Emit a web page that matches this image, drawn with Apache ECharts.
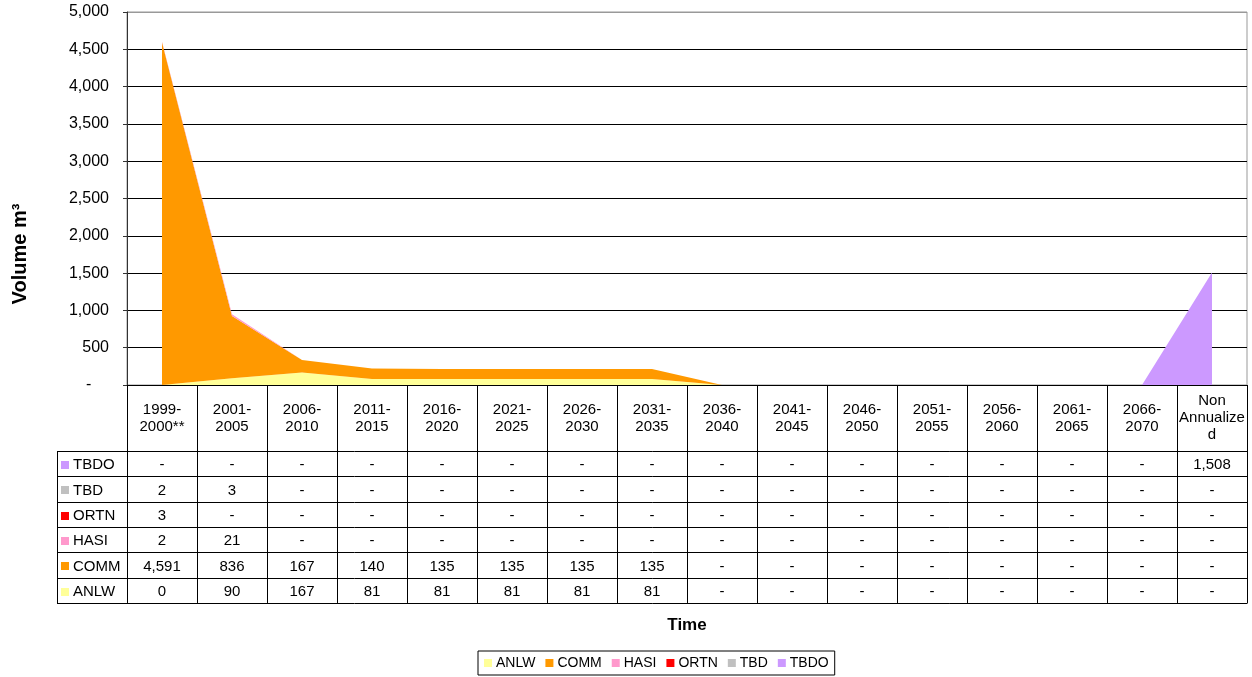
<!DOCTYPE html>
<html>
<head>
<meta charset="utf-8">
<title>Volume by period</title>
<script src="https://cdn.jsdelivr.net/npm/echarts@6/dist/echarts.min.js"></script>
<style>
  html, body { margin: 0; padding: 0; background: #fff; }
  #chart { width: 1252px; height: 677px; }
</style>
</head>
<body>
<div id="chart"></div>
<script>
// Time periods (x categories / table header)
const categories = [
  '1999-\n2000**', '2001-\n2005', '2006-\n2010', '2011-\n2015', '2016-\n2020',
  '2021-\n2025', '2026-\n2030', '2031-\n2035', '2036-\n2040', '2041-\n2045',
  '2046-\n2050', '2051-\n2055', '2056-\n2060', '2061-\n2065', '2066-\n2070',
  'Non\nAnnualize\nd'
];

// Volumes in m3 per waste stream (0 is shown as "-")
const anlw = [0.4, 90, 167, 81, 81, 81, 81, 81, 0, 0, 0, 0, 0, 0, 0, 0];
const comm = [4591, 836, 167, 140, 135, 135, 135, 135, 0, 0, 0, 0, 0, 0, 0, 0];
const hasi = [2, 21, 0, 0, 0, 0, 0, 0, 0, 0, 0, 0, 0, 0, 0, 0];
const ortn = [3, 0, 0, 0, 0, 0, 0, 0, 0, 0, 0, 0, 0, 0, 0, 0];
const tbd  = [2, 3, 0, 0, 0, 0, 0, 0, 0, 0, 0, 0, 0, 0, 0, 0];
const tbdo = [0, 0, 0, 0, 0, 0, 0, 0, 0, 0, 0, 0, 0, 0, 0, 1508];

const seriesNames = ['ANLW', 'COMM', 'HASI', 'ORTN', 'TBD', 'TBDO'];
const seriesData = [anlw, comm, hasi, ortn, tbd, tbdo];
const seriesColors = ['#FFFF99', '#FF9900', '#FF99CC', '#FF0000', '#C0C0C0', '#CC99FF'];

// Y axis scale
const yMin = 0, yMax = 5000, yStep = 500;

const FONT = '"Liberation Sans", Arial, sans-serif';
const HEADER_H = 66;     // height of the period header row under the axis
const ROW_H = 25.33;     // height of each data-table row
const TABLE_H = HEADER_H + ROW_H * seriesNames.length;

const fmt = v => v === 0 ? '-' : Math.round(v).toLocaleString('en-US');

// gridlines are black; the top one doubles as the grey plot border
const nLines = (yMax - yMin) / yStep + 1;
const splitColors = Array.from({ length: nLines }, (_, i) => i === nLines - 1 ? '#999' : '#000');

const chart = echarts.init(document.getElementById('chart'), null, { renderer: 'canvas' });

chart.setOption({
  animation: false,
  backgroundColor: '#fff',
  textStyle: { fontFamily: FONT },
  grid: {
    left: 127, right: 5, top: 12, bottom: 292,
    show: true, borderColor: '#999', borderWidth: 1, backgroundColor: 'transparent'
  },
  legend: {
    data: seriesNames,
    left: 478, top: 651,
    orient: 'horizontal',
    icon: 'rect',
    itemWidth: 8, itemHeight: 8, itemGap: 10,
    padding: [5, 6, 5, 6],
    borderColor: '#000', borderWidth: 1,
    textStyle: { fontSize: 14, color: '#000', fontFamily: FONT, padding: [0, 0, 0, -1] },
    selectedMode: false
  },
  xAxis: {
    type: 'category',
    data: categories,
    boundaryGap: true,
    name: 'Time',
    nameLocation: 'middle',
    nameGap: 232,
    nameTextStyle: { fontSize: 17, fontWeight: 'bold', color: '#000', fontFamily: FONT },
    axisLine: { show: true, lineStyle: { color: '#000', width: 1 } },
    axisTick: { show: true, interval: 0, alignWithLabel: false, length: TABLE_H, lineStyle: { color: '#000' } },
    axisLabel: {
      interval: 0, margin: HEADER_H / 2, verticalAlign: 'middle', align: 'center',
      fontSize: 15, lineHeight: 17, color: '#000', fontFamily: FONT
    },
    splitLine: { show: false }
  },
  yAxis: {
    type: 'value',
    min: yMin, max: yMax, interval: yStep,
    axisLine: { show: true, lineStyle: { color: '#333', width: 1 } },
    axisTick: { show: true, inside: false, length: 4, lineStyle: { color: '#333' } },
    axisLabel: {
      margin: 18, fontSize: 16, color: '#000', fontFamily: FONT,
      formatter: v => v === 0 ? '-    ' : v.toLocaleString('en-US')
    },
    splitLine: { show: true, lineStyle: { color: splitColors, width: 1 } }
  },
  series: seriesNames.map((name, i) => ({
    name: name,
    type: 'line',
    stack: 'total',
    data: seriesData[i],
    symbol: 'none',
    showSymbol: false,
    lineStyle: { width: 0, color: seriesColors[i] },
    itemStyle: { color: seriesColors[i] },
    areaStyle: { color: seriesColors[i], opacity: 1 },
    emphasis: { disabled: true },
    z: 2
  }))
});

// Data table beneath the axis: rows listed top-down from the last series to the first
function drawTable() {
  const xs = categories.map((c, i) => chart.convertToPixel({ xAxisIndex: 0 }, i));
  const y0 = chart.convertToPixel({ yAxisIndex: 0 }, 0);
  const gridRight = chart.getWidth() - 5;
  const tableLeft = 57;
  const rowsTop = y0 + HEADER_H;
  const elements = [];
  const crisp = v => Math.round(v) + 0.5;

  // vertical axis title
  elements.push({
    type: 'text', silent: true,
    x: 20, y: 254, rotation: Math.PI / 2,
    style: {
      text: 'Volume m³', textAlign: 'center', textVerticalAlign: 'middle',
      font: 'bold 20px ' + FONT, fill: '#000'
    }
  });

  // horizontal row rules
  for (let r = 0; r <= seriesNames.length; r++) {
    const y = crisp(rowsTop + r * ROW_H);
    elements.push({
      type: 'line', silent: true,
      shape: { x1: tableLeft, y1: y, x2: gridRight + 0.5, y2: y },
      style: { stroke: '#000', lineWidth: 1 }
    });
  }
  // left edge of the series-name column
  elements.push({
    type: 'line', silent: true,
    shape: { x1: tableLeft + 0.5, y1: crisp(rowsTop), x2: tableLeft + 0.5, y2: crisp(rowsTop + seriesNames.length * ROW_H) },
    style: { stroke: '#000', lineWidth: 1 }
  });

  const order = seriesNames.map((n, i) => i).reverse();
  order.forEach((si, r) => {
    const cy = rowsTop + r * ROW_H + ROW_H / 2 + 1.5;
    // key swatch + series name
    elements.push({
      type: 'rect', silent: true,
      shape: { x: 61, y: Math.round(cy - 4), width: 8, height: 8 },
      style: { fill: seriesColors[si] }
    });
    elements.push({
      type: 'text', silent: true,
      style: {
        x: 73, y: cy, text: seriesNames[si], textAlign: 'left', textVerticalAlign: 'middle',
        font: '15px ' + FONT, fill: '#000'
      }
    });
    // values
    seriesData[si].forEach((v, ci) => {
      elements.push({
        type: 'text', silent: true,
        style: {
          x: xs[ci], y: cy, text: fmt(v), textAlign: 'center', textVerticalAlign: 'middle',
          font: '15px ' + FONT, fill: '#000'
        }
      });
    });
  });

  chart.setOption({ graphic: { elements: elements } });
}
drawTable();
</script>
</body>
</html>
